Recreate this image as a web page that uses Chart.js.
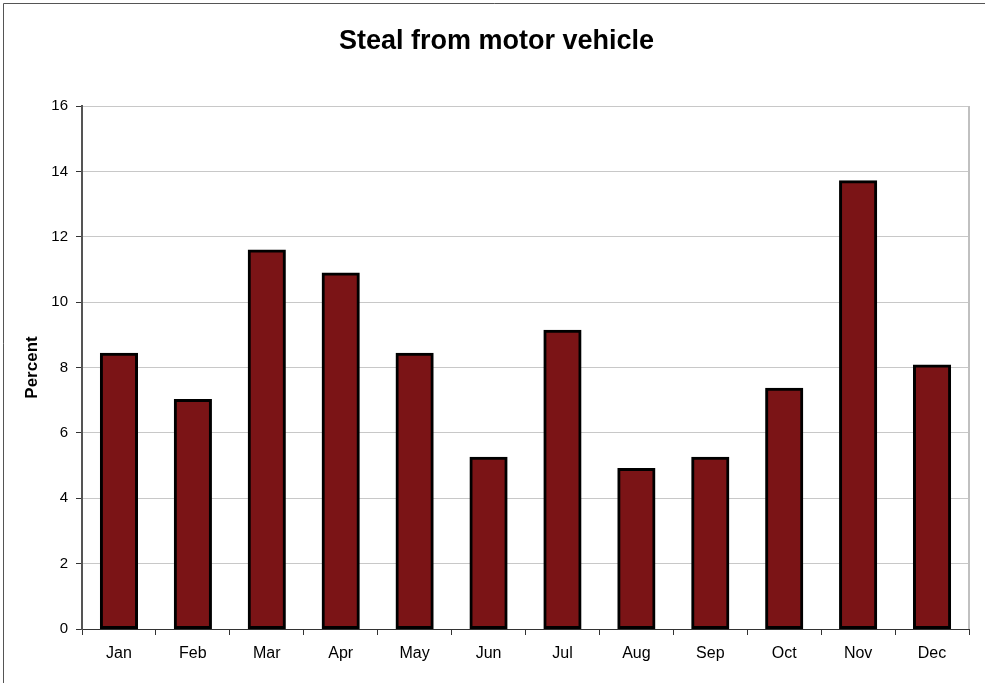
<!DOCTYPE html>
<html>
<head>
<meta charset="utf-8">
<script src="https://cdn.jsdelivr.net/npm/chart.js@4"></script>
<style>
  html, body { margin: 0; padding: 0; background: #fff; }
  #wrap { width: 985px; height: 683px; position: relative; }
</style>
</head>
<body>
<div id="wrap"><canvas id="chart" width="985" height="683"></canvas></div>
<script>
// 데이터
const months = ['Jan', 'Feb', 'Mar', 'Apr', 'May', 'Jun', 'Jul', 'Aug', 'Sep', 'Oct', 'Nov', 'Dec'];
const percent = [8.43, 7.02, 11.59, 10.89, 8.43, 5.25, 9.14, 4.91, 5.25, 7.36, 13.71, 8.07];
const yTicks = [0, 2, 4, 6, 8, 10, 12, 14, 16];

Chart.defaults.font.family = "'Liberation Sans', Arial, sans-serif";
Chart.defaults.color = '#000';

// 바깥 테두리와 플롯 오른쪽 테두리
const framePlugin = {
  id: 'frame',
  beforeDraw(chart) {
    const ctx = chart.ctx;
    ctx.save();
    ctx.fillStyle = '#fff';
    ctx.fillRect(0, 0, chart.width, chart.height);
    ctx.strokeStyle = '#555';
    ctx.lineWidth = 1;
    ctx.beginPath();
    ctx.moveTo(3.5, chart.height);
    ctx.lineTo(3.5, 3.5);
    ctx.lineTo(chart.width, 3.5);
    ctx.stroke();
    ctx.restore();
  },
  afterDatasetsDraw(chart) {
    const a = chart.chartArea;
    const ctx = chart.ctx;
    ctx.save();
    ctx.strokeStyle = '#c0c0c0';
    ctx.lineWidth = 2;
    ctx.beginPath();
    ctx.moveTo(a.right, a.top);
    ctx.lineTo(a.right, a.bottom);
    ctx.stroke();
    ctx.restore();
  }
};

new Chart(document.getElementById('chart').getContext('2d'), {
  type: 'bar',
  data: {
    labels: months,
    datasets: [{
      data: percent,
      backgroundColor: '#7b1416',
      borderColor: '#000',
      borderWidth: 3,
      borderSkipped: false,
      inflateAmount: 0.6,
      barPercentage: 0.5,
      categoryPercentage: 1.0
    }]
  },
  options: {
    responsive: false,
    animation: false,
    layout: { padding: { left: 8, right: 0, top: 25, bottom: 0 } },
    plugins: {
      legend: { display: false },
      tooltip: { enabled: false },
      title: {
        display: true,
        text: 'Steal from motor vehicle',
        font: { size: 27, weight: 'bold' },
        padding: { top: 0, bottom: 48.6 }
      }
    },
    scales: {
      x: {
        offset: true,
        grid: {
          offset: true,
          drawOnChartArea: false,
          drawTicks: true,
          tickLength: 6,
          tickColor: '#333'
        },
        border: { color: '#333', width: 1 },
        ticks: { font: { size: 16 }, padding: 9 },
        afterFit(scale) { scale.height = 54; }
      },
      y: {
        min: 0,
        max: 16,
        afterBuildTicks(scale) { scale.ticks = yTicks.map(v => ({ value: v })); },
        grid: {
          color: '#c8c8c8',
          lineWidth: 1,
          tickLength: 6,
          tickColor: '#333'
        },
        border: { color: '#555', width: 2 },
        ticks: { font: { size: 15 }, padding: 8 },
        title: {
          display: true,
          text: 'Percent',
          font: { size: 17, weight: 'bold' },
          padding: { top: 14, bottom: 0 }
        },
        afterFit(scale) { scale.width = 74; }
      },
      // 오른쪽 여백용 빈 축
      yRight: {
        position: 'right',
        min: 0,
        max: 16,
        grid: { display: false, drawTicks: false },
        border: { display: false },
        ticks: { display: false },
        afterFit(scale) { scale.width = 16; }
      }
    }
  },
  plugins: [framePlugin]
});
</script>
</body>
</html>
